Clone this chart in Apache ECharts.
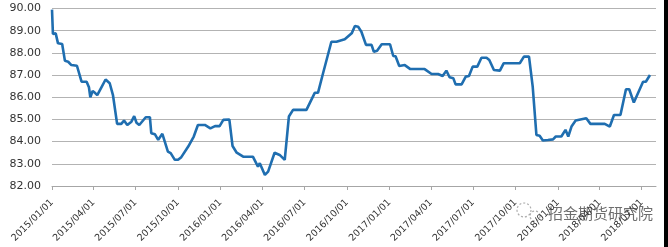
<!DOCTYPE html>
<html>
<head>
<meta charset="utf-8">
<style>
html,body{margin:0;padding:0;background:#fff;}
#chart{width:668px;height:247px;}
</style>
<script src="https://cdn.jsdelivr.net/npm/echarts@6/dist/echarts.min.js"></script>
</head>
<body>
<div id="chart"></div>
<script>
var dates = [
"2015-01-01","2015-01-03","2015-01-09","2015-01-14","2015-01-23","2015-01-29","2015-02-05","2015-02-12","2015-02-24","2015-03-06",
"2015-03-17","2015-03-22","2015-03-25","2015-03-30","2015-04-04","2015-04-09","2015-04-18","2015-04-27","2015-05-06","2015-05-13",
"2015-05-22","2015-05-31","2015-06-06","2015-06-13","2015-06-22","2015-06-28","2015-07-03","2015-07-09","2015-07-23","2015-08-01",
"2015-08-04","2015-08-12","2015-08-19","2015-08-28","2015-09-09","2015-09-15","2015-09-24","2015-10-01","2015-10-08","2015-10-23",
"2015-11-04","2015-11-13","2015-11-28","2015-12-10","2015-12-20","2015-12-30","2016-01-07","2016-01-20","2016-01-27","2016-02-05",
"2016-02-19","2016-03-11","2016-03-22","2016-03-26","2016-04-06","2016-04-13","2016-04-27","2016-05-08","2016-05-19","2016-05-28",
"2016-06-06","2016-07-05","2016-07-23","2016-07-30","2016-08-10","2016-08-28","2016-09-08","2016-09-26","2016-10-11","2016-10-18",
"2016-10-25","2016-11-01","2016-11-11","2016-11-23","2016-11-28","2016-12-05","2016-12-15","2017-01-02","2017-01-09","2017-01-14",
"2017-01-22","2017-02-03","2017-02-15","2017-03-18","2017-04-02","2017-04-16","2017-04-26","2017-05-04","2017-05-11","2017-05-19",
"2017-05-24","2017-06-06","2017-06-15","2017-06-22","2017-06-30","2017-07-10","2017-07-19","2017-07-30","2017-08-05","2017-08-15",
"2017-08-28","2017-09-05","2017-10-10","2017-10-19","2017-10-30","2017-11-07","2017-11-15","2017-11-22","2017-11-29","2017-12-10",
"2017-12-21","2017-12-27","2018-01-08","2018-01-17","2018-01-23","2018-01-30","2018-02-08","2018-03-03","2018-03-12","2018-04-12",
"2018-04-23","2018-05-02","2018-05-16","2018-05-28","2018-06-04","2018-06-14","2018-07-04","2018-07-10","2018-07-19"
];
var values = [
89.95,88.85,88.88,88.43,88.40,87.64,87.60,87.45,87.42,86.70,
86.70,86.45,86.00,86.28,86.20,86.10,86.45,86.80,86.63,86.10,
84.80,84.80,84.95,84.75,84.90,85.15,84.85,84.75,85.10,85.10,
84.38,84.33,84.08,84.35,83.55,83.48,83.18,83.18,83.30,83.78,
84.23,84.75,84.75,84.60,84.70,84.70,84.98,85.00,83.80,83.50,
83.32,83.32,82.87,83.03,82.50,82.65,83.50,83.40,83.18,85.13,
85.43,85.43,86.20,86.20,87.08,88.50,88.50,88.61,88.88,89.21,
89.18,88.95,88.36,88.36,88.05,88.10,88.39,88.39,87.86,87.85,
87.41,87.45,87.27,87.27,87.05,87.05,86.96,87.20,86.90,86.86,
86.58,86.58,86.93,86.96,87.38,87.38,87.78,87.78,87.68,87.23,
87.20,87.53,87.53,87.83,87.83,86.48,84.30,84.26,84.05,84.07,
84.10,84.23,84.23,84.53,84.23,84.68,84.95,85.05,84.80,84.80,
84.68,85.20,85.20,86.36,86.36,85.76,86.70,86.70,87.00
];
var tickLabels = ["2015/01/01","2015/04/01","2015/07/01","2015/10/01","2016/01/01","2016/04/01","2016/07/01","2016/10/01","2017/01/01","2017/04/01","2017/07/01","2017/10/01","2018/01/01","2018/04/01","2018/07/01"];
var yTicks = [82,83,84,85,86,87,88,89,90];

function parseD(s){
  var p = s.split(/[-\/]/);
  return Date.UTC(+p[0], +p[1]-1, +p[2]);
}
var tickValues = tickLabels.map(parseD);
var seriesData = dates.map(function(d,i){ return [parseD(d), values[i]]; });

var chart = echarts.init(document.getElementById('chart'), null, {renderer:'canvas'});
chart.setOption({
  animation:false,
  backgroundColor:'#ffffff',
  grid:{left:52, right:12, top:8.5, bottom:61},
  xAxis:{
    type:'value',
    min:parseD("2015/01/01"),
    max:parseD("2018/08/01"),
    axisLine:{show:true, lineStyle:{color:'#a6a6a6', width:1}},
    axisTick:{show:true, customValues:tickValues, length:4, lineStyle:{color:'#a6a6a6'}},
    axisLabel:{
      customValues:tickValues,
      rotate:45,
      fontFamily:'DejaVu Sans',
      fontSize:9.5,
      color:'#333333',
      margin:15,
      showMinLabel:true,
      showMaxLabel:true,
      formatter:function(v){
        var i = tickValues.indexOf(v);
        return i>=0 ? tickLabels[i] : '';
      }
    },
    splitLine:{show:false}
  },
  yAxis:{
    type:'value',
    min:yTicks[0], max:yTicks[yTicks.length-1], interval:1,
    axisLine:{show:false},
    axisTick:{show:false},
    axisLabel:{fontFamily:'DejaVu Sans', fontSize:11, color:'#333333', margin:11,
      formatter:function(v){return v.toFixed(2);}},
    splitLine:{lineStyle:{color:'#b3b3b3', width:1}}
  },
  series:[{
    type:'line',
    data:seriesData,
    showSymbol:false,
    lineStyle:{color:'#1f6eb0', width:2.6},
    itemStyle:{color:'#1f6eb0'}
  }],
  graphic:[
    {type:'circle', shape:{cx:524, cy:210, r:7}, style:{fill:'none', stroke:'#9a9a9a', lineWidth:1.2, lineDash:[2,2], opacity:0.8}},
    {type:'circle', shape:{cx:535, cy:216, r:5}, style:{fill:'none', stroke:'#9a9a9a', lineWidth:1.2, lineDash:[2,2], opacity:0.8}},
    {type:'text', left:548, top:206, style:{text:'招金期货研究院', fill:'#555555', opacity:0.85, font:'15px "Noto Sans CJK SC"'}},
    {type:'rect', shape:{x:664, y:0, width:4, height:247}, style:{fill:'#000'}}
  ]
});
</script>
</body>
</html>
